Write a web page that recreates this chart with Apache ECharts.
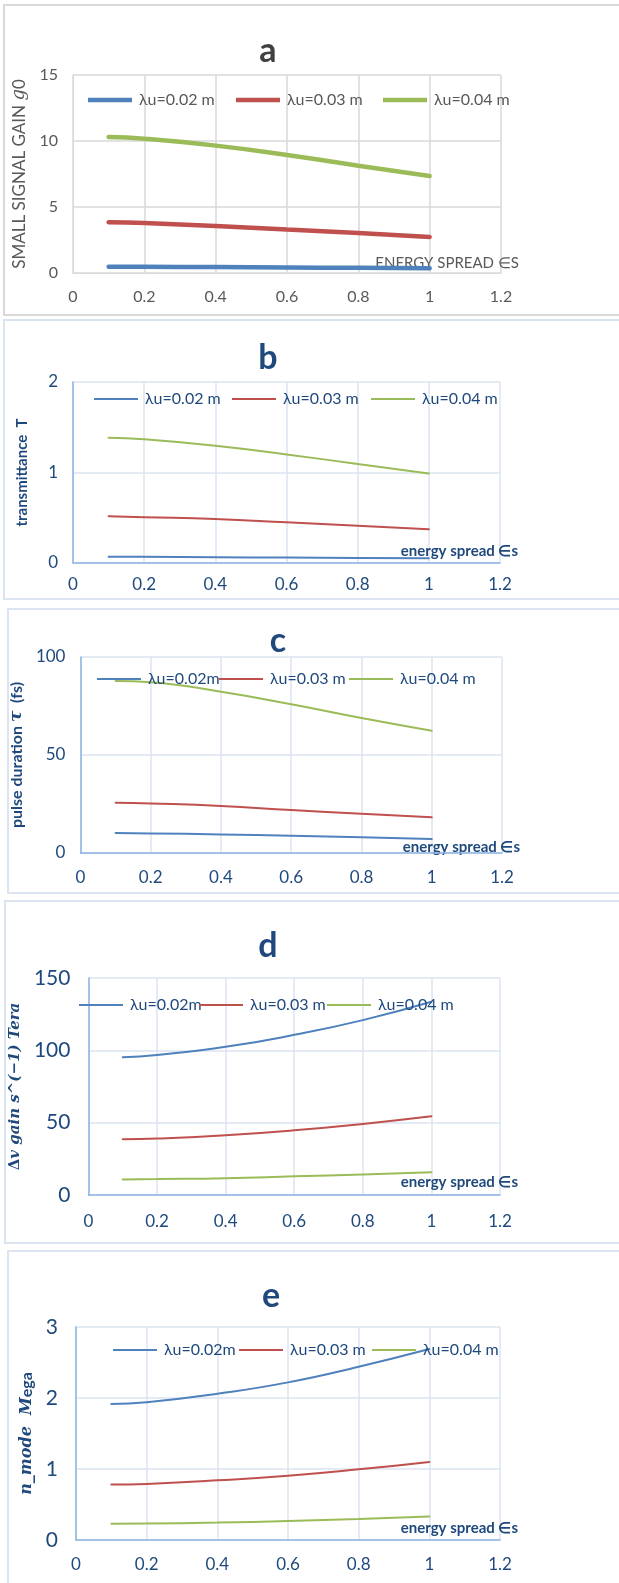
<!DOCTYPE html>
<html>
<head>
<meta charset="utf-8">
<script src="https://cdn.jsdelivr.net/npm/echarts@6/dist/echarts.min.js"></script>
<style>
  body { margin: 0; background: #fff; width: 619px; height: 1583px; position: relative; overflow: hidden; }
  .box { position: absolute; box-sizing: border-box; }
  .chart { position: absolute; left: 0; width: 619px; }
</style>
</head>
<body>
<div class="box" style="left:3px;top:4px;width:630px;height:312px;border:2px solid #d9d9d9;"></div>
<div class="box" style="left:3px;top:319px;width:630px;height:281px;border:2px solid #dbe5f1;"></div>
<div class="box" style="left:7px;top:608px;width:630px;height:286px;border:2px solid #dbe5f1;"></div>
<div class="box" style="left:4px;top:900px;width:630px;height:344px;border:2px solid #dbe5f1;"></div>
<div class="box" style="left:7px;top:1250px;width:630px;height:340px;border:2px solid #dbe5f1;"></div>

<div id="ca" class="chart" style="top:0px;height:318px;"></div>
<div id="cb" class="chart" style="top:318px;height:287px;"></div>
<div id="cc" class="chart" style="top:605px;height:292px;"></div>
<div id="cd" class="chart" style="top:897px;height:350px;"></div>
<div id="ce" class="chart" style="top:1247px;height:336px;"></div>

<script>
// energy spread (x values)
const energySpread = [0.1, 0.2, 0.4, 0.6, 0.8, 1.0];
const xTicks = [0, 0.2, 0.4, 0.6, 0.8, 1, 1.2];

// a - small signal gain g0
const gain002 = [0.48, 0.47, 0.45, 0.42, 0.39, 0.36];
const gain003 = [3.84, 3.78, 3.56, 3.30, 3.03, 2.73];
const gain004 = [10.3, 10.17, 9.65, 8.94, 8.13, 7.35];

// b - transmittance T
const trans002 = [0.070, 0.068, 0.064, 0.060, 0.056, 0.052];
const trans003 = [0.516, 0.506, 0.486, 0.450, 0.412, 0.372];
const trans004 = [1.385, 1.367, 1.296, 1.200, 1.094, 0.990];

// c - pulse duration (fs)
const pulse002 = [10.2, 10.0, 9.5, 8.8, 8.0, 7.1];
const pulse003 = [25.7, 25.3, 24.0, 21.9, 20.0, 18.2];
const pulse004 = [87.8, 87.1, 82.3, 75.9, 68.9, 62.4];

// d - delta v gain (Tera s^-1)
const dv002 = [95.2, 96.8, 102.4, 110.7, 120.9, 133.6];
const dv003 = [38.5, 39.0, 41.3, 44.7, 49.1, 54.4];
const dv004 = [10.8, 11.0, 11.6, 12.9, 14.2, 15.7];

// e - n_mode (Mega)
const nmode002 = [1.915, 1.94, 2.06, 2.22, 2.44, 2.69];
const nmode003 = [0.78, 0.79, 0.84, 0.905, 0.995, 1.10];
const nmode004 = [0.23, 0.232, 0.245, 0.268, 0.295, 0.33];

const colors = ["#4f81bd", "#c0504d", "#9bbb59"];
const FONT = "Lato, 'Open Sans', sans-serif";
const MATH = "'DejaVu Serif', 'Liberation Serif', serif";

function pairs(ys) {
  return energySpread.map((x, i) => [x, ys[i]]);
}

function makeChart(id, cfg) {
  const chart = echarts.init(document.getElementById(id), null, { renderer: "canvas" });
  const blue = cfg.blueStyle;
  const textColor = blue ? "#1f497d" : "#595959";
  const gridColor = blue ? "#dbe5f1" : "#d9d9d9";
  const axisColor = blue ? "#8eb4e3" : "#d9d9d9";

  const series = cfg.names.map((n, i) => ({
    name: n,
    type: "line",
    smooth: true,
    symbol: "none",
    data: pairs(cfg.values[i]),
    lineStyle: { color: colors[i], width: cfg.lineWidth, cap: "round" },
    itemStyle: { color: colors[i] },
    z: 3
  }));

  // one legend per item so each sits where the original puts it
  const legends = cfg.names.map((n, i) => ({
    data: [n],
    left: cfg.legendX[i],
    top: cfg.legendY - 10,
    icon: "rect",
    itemWidth: 44,
    itemHeight: cfg.lineWidth,
    itemGap: 0,
    padding: 0,
    textStyle: { color: textColor, fontSize: 16, lineHeight: 20, fontFamily: FONT, padding: [0, 0, 0, 2] },
    selectedMode: false
  }));

  const option = {
    animation: false,
    title: {
      text: cfg.title,
      left: cfg.titleX,
      top: cfg.titleY,
      textAlign: "center",
      textStyle: { color: blue ? "#1f497d" : "#404040", fontSize: 34, fontWeight: "bold", fontFamily: FONT }
    },
    legend: legends,
    grid: { left: cfg.grid[0], top: cfg.grid[1], width: cfg.grid[2], height: cfg.grid[3], containLabel: false },
    xAxis: {
      type: "value",
      min: 0,
      max: 1.2,
      interval: 0.2,
      name: cfg.xName,
      nameLocation: "end",
      nameGap: 18,
      nameTextStyle: {
        align: "right",
        verticalAlign: "bottom",
        color: textColor,
        fontSize: 15,
        fontWeight: blue ? "bold" : "normal",
        fontFamily: FONT,
        padding: [0, 0, cfg.xNameLift, 0]
      },
      axisLine: { show: true, lineStyle: { color: axisColor, width: blue ? 1.5 : 1 } },
      axisTick: { show: false },
      splitLine: { show: true, lineStyle: { color: gridColor, width: 1.5 } },
      axisLabel: {
        color: textColor,
        fontSize: cfg.xLabelSize,
        fontFamily: FONT,
        margin: cfg.xLabelMargin,
        formatter: v => xTicks.includes(+v.toFixed(1)) ? String(+v.toFixed(1)) : ""
      }
    },
    yAxis: {
      type: "value",
      min: 0,
      max: cfg.yMax,
      interval: cfg.yInterval,
      name: cfg.yName,
      nameLocation: "middle",
      nameGap: cfg.yNameGap,
      nameRotate: 90,
      nameTextStyle: cfg.yNameStyle,
      axisLine: { show: true, lineStyle: { color: axisColor, width: blue ? 1.5 : 1 } },
      axisTick: { show: false },
      splitLine: { show: true, lineStyle: { color: gridColor, width: 1.5 } },
      axisLabel: { color: textColor, fontSize: cfg.yLabelSize, fontFamily: FONT, margin: cfg.yLabelMargin }
    },
    series: series
  };
  chart.setOption(option);
  return chart;
}

makeChart("ca", {
  title: "a", titleX: 263, titleY: 29,
  blueStyle: false, lineWidth: 4.5,
  names: ["λu=0.02 m", "λu=0.03 m", "λu=0.04 m"],
  values: [gain002, gain003, gain004],
  legendX: [88, 236, 383], legendY: 100,
  grid: [73, 75, 428, 198],
  yMax: 15, yInterval: 5,
  xName: "ENERGY SPREAD ∈S", xNameLift: 2,
  xLabelSize: 16, xLabelMargin: 16,
  yLabelSize: 16, yLabelMargin: 15,
  yName: "{n|SMALL SIGNAL GAIN }{i|g}{n|0}",
  yNameGap: 36,
  yNameStyle: {
    rich: {
      n: { color: "#595959", fontSize: 17, fontFamily: FONT },
      i: { color: "#595959", fontSize: 18, fontFamily: MATH, fontStyle: "italic" }
    }
  }
});

makeChart("cb", {
  title: "b", titleX: 263, titleY: 18,
  blueStyle: true, lineWidth: 2,
  names: ["λu=0.02 m", "λu=0.03 m", "λu=0.04 m"],
  values: [trans002, trans003, trans004],
  legendX: [94, 232, 371], legendY: 81,
  grid: [73, 64, 427, 181],
  yMax: 2, yInterval: 1,
  xName: "energy spread ∈s", xNameLift: 4,
  xLabelSize: 17, xLabelMargin: 13,
  yLabelSize: 17, yLabelMargin: 15,
  yName: "transmittance  T",
  yNameGap: 43,
  yNameStyle: { color: "#1f497d", fontSize: 15, fontWeight: "bold", fontFamily: FONT }
});

makeChart("cc", {
  title: "c", titleX: 273, titleY: 14,
  blueStyle: true, lineWidth: 2,
  names: ["λu=0.02m", "λu=0.03 m", "λu=0.04 m"],
  values: [pulse002, pulse003, pulse004],
  legendX: [97, 219, 349], legendY: 74,
  grid: [77, 52, 425, 196],
  yMax: 100, yInterval: 50,
  xName: "energy spread ∈s", xNameLift: -2,
  xLabelSize: 17, xLabelMargin: 16,
  yLabelSize: 17, yLabelMargin: 15,
  yName: "{b|pulse duration }{m|τ}{b|  (fs)}",
  yNameGap: 43,
  yNameStyle: {
    rich: {
      b: { color: "#1f497d", fontSize: 16, fontWeight: "bold", fontFamily: FONT },
      m: { color: "#1f497d", fontSize: 17, fontWeight: "bold", fontStyle: "italic", fontFamily: MATH }
    }
  }
});

makeChart("cd", {
  title: "d", titleX: 263, titleY: 27,
  blueStyle: true, lineWidth: 2,
  names: ["λu=0.02m", "λu=0.03 m", "λu=0.04 m"],
  values: [dv002, dv003, dv004],
  legendX: [79, 199, 327], legendY: 108,
  grid: [73, 81, 427, 217],
  yMax: 150, yInterval: 50,
  xName: "energy spread ∈s", xNameLift: 5,
  xLabelSize: 17, xLabelMargin: 18,
  yLabelSize: 21, yLabelMargin: 18,
  yName: "{m|Δ}{i|v gain s^(−1) Tera}",
  yNameGap: 47,
  yNameStyle: {
    rich: {
      m: { color: "#1f497d", fontSize: 15, fontWeight: "bold", fontFamily: MATH },
      i: { color: "#1f497d", fontSize: 15, fontWeight: "bold", fontStyle: "italic", fontFamily: MATH }
    }
  }
});

makeChart("ce", {
  title: "e", titleX: 266, titleY: 27,
  blueStyle: true, lineWidth: 2,
  names: ["λu=0.02m", "λu=0.03 m", "λu=0.04 m"],
  values: [nmode002, nmode003, nmode004],
  legendX: [113, 239, 372], legendY: 103,
  grid: [76, 80, 424, 213],
  yMax: 3, yInterval: 1,
  xName: "energy spread ∈s", xNameLift: 4,
  xLabelSize: 17, xLabelMargin: 16,
  yLabelSize: 21, yLabelMargin: 18,
  yName: "{i|n_mode  M}{b|ega}",
  yNameGap: 34,
  yNameStyle: {
    rich: {
      i: { color: "#1f497d", fontSize: 16, fontWeight: "bold", fontStyle: "italic", fontFamily: MATH },
      b: { color: "#1f497d", fontSize: 16, fontWeight: "bold", fontFamily: FONT }
    }
  }
});
</script>
</body>
</html>
